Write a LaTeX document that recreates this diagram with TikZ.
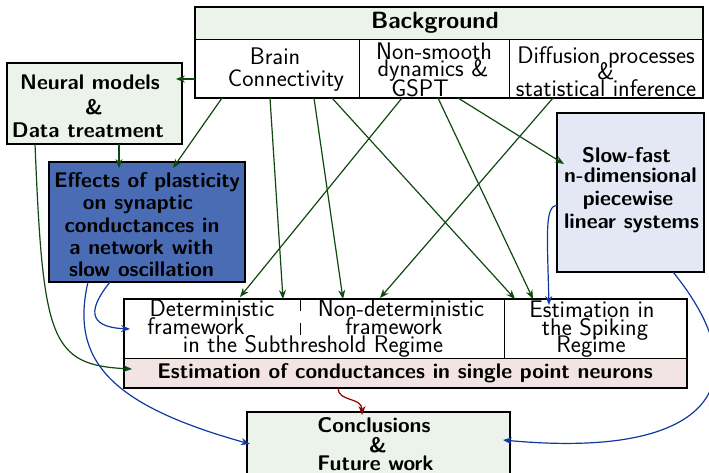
\documentclass[tikz,border=0pt]{standalone}
\usetikzlibrary{arrows.meta}
\definecolor{hdrgreen}{RGB}{235,243,235}
\definecolor{effblue}{RGB}{74,108,181}
\definecolor{sflav}{RGB}{228,232,245}
\definecolor{estpink}{RGB}{242,228,228}
\definecolor{arrgreen}{RGB}{16,72,16}
\definecolor{arrblue}{RGB}{16,56,160}
\definecolor{arrred}{RGB}{139,0,0}
\begin{document}
\begin{tikzpicture}[x=1pt,y=-1pt,
  box/.style={draw, line width=1.6pt, inner sep=0pt, outer sep=0pt},
  cell/.style={draw, line width=1pt, inner sep=0pt, outer sep=0pt},
  reg/.style={inner sep=0pt, anchor=base, font=\sffamily\fontsize{24}{28}\selectfont},
  bld/.style={inner sep=0pt, anchor=base, font=\sffamily\bfseries\fontsize{21.2}{26}\selectfont},
  hdr/.style={inner sep=0pt, anchor=base, font=\sffamily\bfseries\fontsize{23.5}{28}\selectfont},
  tip/.style={-{Stealth[length=9pt,width=7pt]}},
  garrow/.style={draw=arrgreen, line width=1.2pt, tip},
  barrow/.style={draw=arrblue, line width=1.2pt, tip},
  rarrow/.style={draw=arrred, line width=1.2pt, tip}]
\useasboundingbox (0,0) rectangle (709,473);

% Background table
\node[cell, fill=hdrgreen, minimum width=508pt, minimum height=33pt] (bghead) at (449,23.5) {};
\node[cell, fill=white, minimum width=164pt, minimum height=58pt] (bgc1) at (277,69) {};
\node[cell, fill=white, minimum width=150pt, minimum height=58pt] (bgc2) at (434,69) {};
\node[cell, fill=white, minimum width=194pt, minimum height=58pt] (bgc3) at (606,69) {};
\node[box, minimum width=508pt, minimum height=91pt] (bgall) at (449,52.5) {};
\node[hdr] (tbg) at (435,29) {Background};
\node[reg] (tb1) at (275,65) {Brain};
\node[reg] (tb2) at (286,87) {Connectivity};
\node[reg] (tn1) at (434,60) {Non-smooth};
\node[reg] (tn2) at (433,77) {dynamics \&};
\node[reg] (tn3) at (420,97) {GSPT};
\node[reg] (td1) at (606,64) {Diffusion processes};
\node[reg] (td2) at (606,80) {\&};
\node[reg] (td3) at (606,97) {statistical inference};

% Neural models
\node[box, fill=hdrgreen, minimum width=175pt, minimum height=81pt] (nm) at (94.5,103.5) {};
\node[bld] (tnm1) at (90,90) {Neural models};
\node[bld] (tnm2) at (94,115) {\&};
\node[bld] (tnm3) at (88,138) {Data treatment};

% Effects of plasticity
\node[box, line width=1.3pt, fill=effblue, minimum width=196pt, minimum height=120pt] (eff) at (147,222) {};
\node[bld] (te1) at (147,188) {Effects of plasticity};
\node[bld] (te2) at (138,209) {on synaptic};
\node[bld] (te3) at (142,233) {conductances in};
\node[bld] (te4) at (141.5,254) {a network with};
\node[bld] (te5) at (141.5,276) {slow oscillation};

% Slow-fast
\node[box, fill=sflav, minimum width=147pt, minimum height=159pt] (sf) at (630.5,192.5) {};
\node[bld] (ts1) at (626.5,163) {Slow-fast};
\node[bld] (ts2) at (630.5,183) {n-dimensional};
\node[bld] (ts3) at (628,206) {piecewise};
\node[bld] (ts4) at (631.5,228) {linear systems};

% Estimation box
\node[cell, fill=white, minimum width=563pt, minimum height=59pt] (estup) at (405.5,328.5) {};
\node[cell, fill=estpink, minimum width=563pt, minimum height=30pt] (estlow) at (405.5,373) {};
\node[box, minimum width=563pt, minimum height=89pt] (est) at (405.5,343.5) {};
\draw[line width=1pt] ([xshift=380pt]estup.north west) -- ([xshift=380pt]estup.south west);
\draw[line width=1pt, dash pattern=on 12pt off 12pt] ([xshift=176pt]estup.north west) -- ([shift={(176pt,-41pt)}]estup.north west);
\node[reg] (tx1) at (212,316) {Deterministic};
\node[reg] (tx2) at (196,334) {framework};
\node[reg] (tx3) at (313,352) {in the Subthreshold Regime};
\node[reg] (tx4) at (401,316) {Non-deterministic};
\node[reg] (tx5) at (394,334) {framework};
\node[reg] (tx6) at (592,317) {Estimation in};
\node[reg] (tx7) at (595,335) {the Spiking};
\node[reg] (tx8) at (591,352) {Regime};
\node[bld] (tx9) at (405,378) {Estimation of conductances in single point neurons};

% Conclusions
\node[box, fill=hdrgreen, minimum width=263pt, minimum height=78pt] (conc) at (378.5,451) {};
\node[bld] (tc1) at (374,432) {Conclusions};
\node[bld] (tc2) at (378,452) {\&};
\node[bld] (tc3) at (375.5,470) {Future work};

% Green connectors
\draw[garrow] ([yshift=-26.5pt]bgall.west) -- ([shift={(-6pt,24.5pt)}]nm.east);
\draw[garrow] ([xshift=27pt]bgall.south west) -- ([shift={(124pt,-6pt)}]eff.north west);
\draw[garrow] ([xshift=24.5pt]nm.south) -- ([shift={(-28pt,-6pt)}]eff.north);
\draw[garrow] ([xshift=75pt]bgall.south west) -- ([xshift=159pt]est.north west);
\draw[garrow] ([xshift=119pt]bgall.south west) -- ([xshift=219pt]est.north west);
\draw[garrow] ([xshift=137pt]bgall.south west) -- ([xshift=391pt]est.north west);
\draw[garrow] ([xshift=207pt]bgall.south west) -- ([shift={(116pt,2pt)}]est.north west);
\draw[garrow] ([xshift=243pt]bgall.south west) -- ([xshift=409pt]est.north west);
\draw[garrow] ([xshift=263pt]bgall.south west) -- ([shift={(7pt,-51pt)}]sf.north west);
\draw[garrow] ([xshift=358pt]bgall.south west) -- ([shift={(256pt,1pt)}]est.north west);
\draw[garrow] ([xshift=28pt]nm.south west) .. controls +(8,196) and +(-82,-4) .. ([shift={(8pt,4pt)}]estlow.west);

% Blue connectors
\draw[barrow] ([xshift=61pt]eff.south west) .. controls +(-20,25) and +(-45,-2) .. ([shift={(6pt,-0.5pt)}]estup.west);
\draw[barrow] ([xshift=39pt]eff.south west) .. controls +(-18,78) and +(-140,-39) .. ([shift={(3pt,7pt)}]conc.west);
\draw[barrow] ([yshift=-12.5pt]sf.west) .. controls +(-12,2) and +(-2,-75) .. ([shift={(425pt,-6pt)}]est.north west);
\draw[barrow] ([xshift=42.5pt]sf.south) .. controls +(87,107) and +(215,20) .. ([shift={(-7pt,11pt)}]conc.east);

% Red connector
\draw[rarrow] ([xshift=-67.5pt]est.south) .. controls +(0,14) and +(0,-18) .. ([shift={(-16.5pt,-3pt)}]conc.north);
\end{tikzpicture}
\end{document}
